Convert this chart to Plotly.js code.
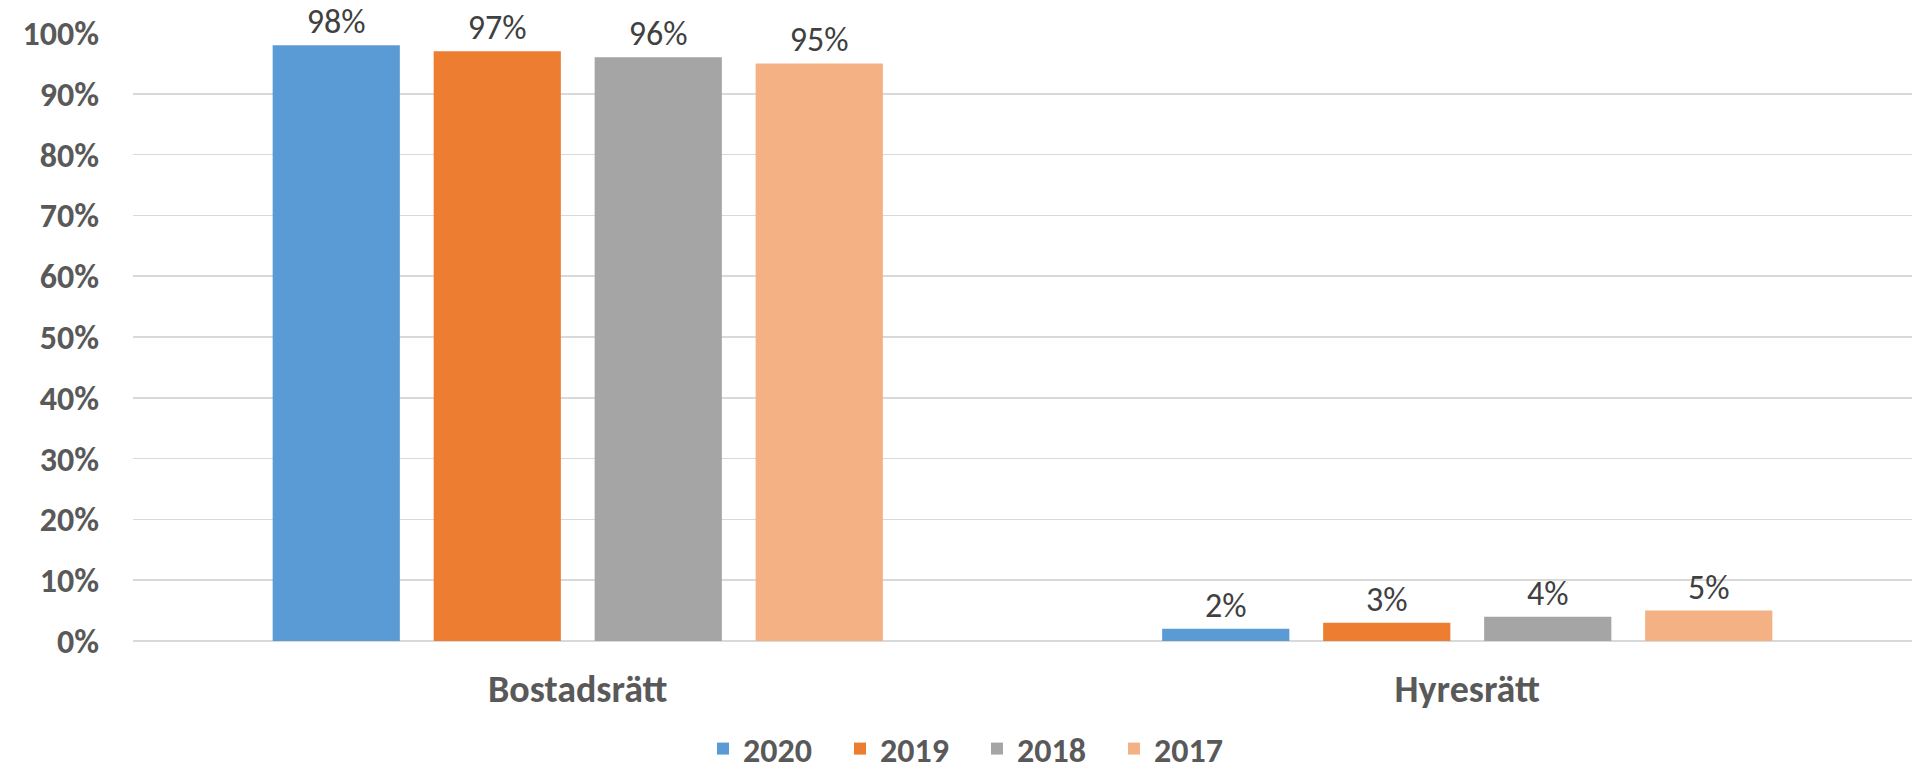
<!DOCTYPE html>
<html>
<head>
<meta charset="utf-8">
<script src="https://cdn.plot.ly/plotly-3.0.1.min.js"></script>
<style>html,body{margin:0;padding:0;background:#fff;}#chart{width:1915px;height:771px;}</style>
</head>
<body>
<div id="chart"></div>
<script>
const categories = ["Bostadsrätt", "Hyresrätt"];
const years = ["2020", "2019", "2018", "2017"];
const v2020 = [0.98, 0.02];
const v2019 = [0.97, 0.03];
const v2018 = [0.96, 0.04];
const v2017 = [0.95, 0.05];
const yTickVals = [0, 0.1, 0.2, 0.3, 0.4, 0.5, 0.6, 0.7, 0.8, 0.9, 1.0];
const yTickText = ["0%", "10%", "20%", "30%", "40%", "50%", "60%", "70%", "80%", "90%", "100%"];

const colors = ["#5B9BD5", "#ED7D31", "#A5A5A5", "#F4B183"];
const series = [v2020, v2019, v2018, v2017];
const FONT = "Calibri, Carlito, Lato, sans-serif";

const traces = series.map((vals, i) => ({
  type: "bar",
  name: years[i],
  x: categories,
  y: vals,
  marker: { color: colors[i] },
  texttemplate: "%{y:.0%}",
  textposition: "outside",
  cliponaxis: false,
  constraintext: "none",
  textfont: { family: FONT, size: 34, color: "#404040" },
  hoverinfo: "skip"
}));

const layout = {
  width: 1915,
  height: 771,
  margin: { l: 133, r: 3, t: 33, b: 130, autoexpand: false },
  paper_bgcolor: "#ffffff",
  plot_bgcolor: "#ffffff",
  barmode: "group",
  bargap: 0.276,
  bargroupgap: 0.21,
  showlegend: true,
  legend: {
    orientation: "h",
    x: 0.3204,
    xanchor: "left",
    y: -0.1776,
    yanchor: "middle",
    font: { family: FONT, size: 34, color: "#595959", weight: "bold" },
    entrywidth: 92,
    entrywidthmode: "pixels",
    traceorder: "normal"
  },
  xaxis: {
    type: "category",
    showgrid: false,
    showline: false,
    zeroline: false,
    ticks: "",
    ticklabelstandoff: 22,
    tickfont: { family: FONT, size: 38, color: "#595959", weight: "bold" }
  },
  yaxis: {
    range: [0, 1],
    tickvals: yTickVals,
    ticktext: yTickText,
    showgrid: true,
    gridcolor: "#d9d9d9",
    gridwidth: 1.5,
    zeroline: true,
    zerolinecolor: "#d9d9d9",
    zerolinewidth: 1.5,
    showline: false,
    ticks: "",
    ticklabelstandoff: 33,
    tickfont: { family: FONT, size: 34, color: "#595959", weight: "bold" }
  }
};

Plotly.newPlot("chart", traces, layout, { staticPlot: true, displayModeBar: false });
</script>
</body>
</html>
